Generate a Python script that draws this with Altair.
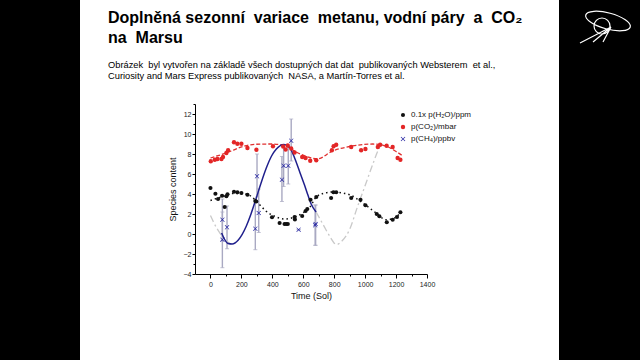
import altair as alt
import pandas as pd

# ---------------- data ----------------
S_H2O = "0.1x p(H₂O)/ppm"
S_CO2 = "p(CO₂)/mbar"
S_CH4 = "p(CH₄)/ppbv"
series_names = [S_H2O, S_CO2, S_CH4]

co2_x = [2, 28, 45, 71, 81, 103, 114, 152, 174, 200, 239, 297, 404, 470, 486, 500, 522, 544,
         593, 615, 645, 684, 785, 796, 813, 910, 974, 1002, 1082, 1097, 1139, 1178, 1210, 1228]
co2_y = [7.27, 7.43, 7.5, 7.5, 7.7, 8.1, 8.37, 9.17, 9.03, 9.03, 8.6, 8.43, 8.77, 8.75, 8.45, 8.85,
         8.55, 8.15, 7.7, 7.6, 7.33, 7.37, 8.37, 8.77, 8.93, 8.7, 8.37, 8.5, 8.7, 8.93, 8.83, 8.7,
         7.6, 7.43]

h2o_x = [0, 32, 49, 75, 92, 103, 110, 152, 174, 200, 239, 290, 296, 398, 447, 479, 490, 500, 544,
         546, 593, 615, 626, 647, 684, 780, 795, 813, 910, 970, 1002, 1075, 1092, 1140, 1178, 1206,
         1228]
h2o_y = [4.6, 4.03, 3.5, 3.83, 2.7, 3.77, 3.97, 4.23, 4.17, 4.1, 3.93, 3.3, 3.25, 1.67, 1.1, 1.0,
         1.0, 1.0, 1.7, 1.45, 1.8, 2.3, 2.5, 3.43, 3.7, 3.6, 4.17, 4.17, 3.6, 3.43, 2.87, 2.0, 1.77,
         1.17, 1.43, 1.7, 2.17]

ch4_x = [77, 77, 107, 290, 301, 312, 462, 473, 503, 522, 570, 677, 680]
ch4_y = [1.43, -0.57, 0.67, 0.53, 5.77, 2.1, 5.43, 6.83, 6.83, 9.33, 0.43, 0.87, 1.0]
ch4_lo = [-0.67, -3.37, -1.47, -1.57, 3.7, 0.15, 3.25, 4.75, 5.0, 7.3, 0.43, -1.13, -1.13]
ch4_hi = [3.5, 2.2, 2.8, 3.3, 8.0, 4.5, 7.75, 8.9, 8.65, 11.5, 0.43, 2.9, 2.9]

co2_fit_x = [0, 110, 220, 290, 390, 480, 560, 640, 690, 790, 900, 1050, 1150, 1200, 1245]
co2_fit_y = [7.6, 8.15, 8.8, 8.97, 9.0, 8.85, 8.15, 7.65, 7.5, 8.3, 8.75, 9.0, 8.7, 8.25, 7.8]

h2o_fit_x = [0, 70, 150, 220, 265, 307, 361, 415, 479, 544, 597, 641, 684, 740, 791, 850, 899,
             985, 1071, 1135, 1190, 1235]
h2o_fit_y = [3.35, 3.7, 4.05, 4.0, 3.75, 3.1, 2.27, 1.77, 1.5, 1.7, 2.1, 2.65, 3.7, 4.1, 4.2, 4.1,
             3.93, 3.1, 2.1, 1.43, 1.6, 2.25]

ch4_fit_x = [72, 90, 114, 140, 180, 232, 262, 292, 325, 361, 395, 426, 475, 510, 544, 575, 608,
             630, 651, 683]
ch4_fit_y = [0.1, -0.5, -0.95, -1.0, -0.6, 0.8, 2.0, 3.4, 5.0, 6.6, 7.8, 8.5, 8.95, 8.7, 7.6, 6.3,
             4.9, 3.9, 3.0, 2.2]

# grey dash-dot continuation: a short piece before the blue fit and a long one after it
ext_a_x = [0, 40, 80, 130]
ext_a_y = [1.85, 0.6, -0.3, -1.0]
ext_b_x = [683, 730, 770, 815, 850, 899, 950, 1006, 1050, 1092, 1115]
ext_b_y = [2.2, 0.9, -0.2, -1.05, -0.7, 0.43, 2.7, 5.1, 7.0, 8.6, 9.0]

x_ticks = list(range(0, 1401, 100))
y_ticks = list(range(-4, 14, 1))

SP2 = "\u00a0 "  # a double space that SVG does not collapse
title_line1 = f"Doplněná sezonní{SP2}variace{SP2}metanu, vodní páry{SP2}a{SP2}CO₂"
title_line2 = f"na{SP2}Marsu"
sub_line1 = (f"Obrázek{SP2}byl vytvořen na základě všech dostupných dat dat{SP2}publikovaných "
             f"Websterem{SP2}et al.,")
sub_line2 = f"Curiosity and Mars Express publikovaných{SP2}NASA, a Martín-Torres et al."

# ---------------- tables ----------------
pts = pd.concat([
    pd.DataFrame({"x": h2o_x, "y": h2o_y, "series": S_H2O}),
    pd.DataFrame({"x": co2_x, "y": co2_y, "series": S_CO2}),
    pd.DataFrame({"x": ch4_x, "y": ch4_y, "series": S_CH4}),
], ignore_index=True)
err = pd.DataFrame({"x": ch4_x, "lo": ch4_lo, "hi": ch4_hi})
err_caps = pd.concat([pd.DataFrame({"x": ch4_x, "y": ch4_lo}),
                      pd.DataFrame({"x": ch4_x, "y": ch4_hi})], ignore_index=True)
ext = pd.concat([pd.DataFrame({"x": ext_a_x, "y": ext_a_y, "seg": "a"}),
                 pd.DataFrame({"x": ext_b_x, "y": ext_b_y, "seg": "b"})], ignore_index=True)

FONT = "Liberation Sans"
X_PATH = ("M-1,-0.8L-0.8,-1L0,-0.2L0.8,-1L1,-0.8L0.2,0L1,0.8L0.8,1L0,0.2"
          "L-0.8,1L-1,0.8L-0.2,0Z")
LOGO_PATH = ("M-0.85,-0.44A0.92,0.32,15,0,1,0.93,0.04A0.92,0.32,15,0,1,-0.85,-0.44"
             "M0.12,0A0.32,0.32,0,1,1,-0.52,0A0.32,0.32,0,1,1,0.12,0"
             "M0.16,0.04L-1.08,0.68M0.16,0.04L-0.56,0.64M0.16,0.04L-0.16,0.64")

x_scale = alt.Scale(domain=[-100, 1400], nice=False, zero=False)
y_scale = alt.Scale(domain=[-4, 13], nice=False, zero=False)

x_axis = alt.Axis(
    title="Time (Sol)", values=x_ticks, format="d", grid=False,
    labelExpr="datum.value % 200 === 0 ? datum.label : ''",
    tickSize={"condition": {"test": "datum.value % 200 === 0", "value": 4}, "value": 2},
    domainColor="black", tickColor="black", labelColor="#222222", titleColor="#111111",
    labelFont=FONT, titleFont=FONT, labelFontSize=7, titleFontSize=9, titleFontWeight="normal",
    labelPadding=2, titlePadding=4, labelFlush=False, zindex=1,
)
y_axis = alt.Axis(
    title="Species content", values=y_ticks, format="d", grid=False,
    labelExpr="datum.value % 2 === 0 ? datum.label : ''",
    tickSize={"condition": {"test": "datum.value % 2 === 0", "value": 3}, "value": 2},
    domainColor="black", tickColor="black", labelColor="#222222", titleColor="#111111",
    labelFont=FONT, titleFont=FONT, labelFontSize=7, titleFontSize=9, titleFontWeight="normal",
    labelPadding=1, titlePadding=6, labelFlush=False, zindex=1,
)

X = alt.X("x:Q", scale=x_scale, axis=x_axis)
Y = alt.Y("y:Q", scale=y_scale, axis=y_axis)

legend = alt.Legend(title=None, orient="none", legendX=204, legendY=7, labelFont=FONT,
                    labelFontSize=8, labelColor="#111111", rowPadding=4, labelLimit=200,
                    zindex=1)

one = pd.DataFrame({"k": [0]})

slide = alt.Chart(one).mark_rect(color="white").encode(
    x=alt.value(-115), x2=alt.value(364), y=alt.value(-104), y2=alt.value(256))

logo = alt.Chart(one).mark_point(shape=LOGO_PATH, filled=False, stroke="white",
                                 strokeWidth=1.2, size=2500, opacity=1).encode(
    x=alt.value(412), y=alt.value(-78))


def text_line(txt, ypos, size, weight="normal"):
    return alt.Chart(one).mark_text(
        text=txt, align="left", baseline="alphabetic", font=FONT, fontSize=size,
        fontWeight=weight, color="black").encode(x=alt.value(-87), y=alt.value(ypos))


t1 = text_line(title_line1, -81, 16, "bold")
t2 = text_line(title_line2, -61.5, 16, "bold")
s1 = text_line(sub_line1, -36, 9.3)
s2 = text_line(sub_line2, -25.5, 9.3)

bars = alt.Chart(err).mark_rule(color="#a9a9c2", strokeWidth=1.4).encode(
    x=X, y=alt.Y("lo:Q", scale=y_scale, axis=y_axis), y2="hi:Q")
caps = alt.Chart(err_caps).mark_tick(color="#a9a9c2", orient="horizontal", size=4,
                                     thickness=1).encode(x=X, y=Y)


def fit(xs, ys, **kw):
    return alt.Chart(pd.DataFrame({"x": xs, "y": ys})).mark_line(
        interpolate="monotone", **kw).encode(x=X, y=Y)


ext_line = alt.Chart(ext).mark_line(interpolate="monotone", color="#c9c9c9", strokeWidth=1.3,
                                    strokeDash=[7, 3, 2, 3]).encode(x=X, y=Y, detail="seg:N")
co2_line = fit(co2_fit_x, co2_fit_y, color="#e03030", strokeWidth=1.3, strokeDash=[4, 2])
h2o_line = fit(h2o_fit_x, h2o_fit_y, color="#111111", strokeWidth=1.5, strokeDash=[1.5, 3])
ch4_line = fit(ch4_fit_x, ch4_fit_y, color="#1f1f8c", strokeWidth=1.5)

points = alt.Chart(pts).mark_point(filled=True, opacity=1).encode(
    x=X, y=Y,
    color=alt.Color("series:N", scale=alt.Scale(domain=series_names,
                                                range=["#111111", "#e32626", "#2020a0"]),
                    legend=legend),
    shape=alt.Shape("series:N", scale=alt.Scale(domain=series_names,
                                                range=["circle", "circle", X_PATH]),
                    legend=legend),
    size=alt.Size("series:N", scale=alt.Scale(domain=series_names, range=[17, 21, 75]),
                  legend=legend),
)

chart = alt.layer(slide, logo, t1, t2, s1, s2, bars, caps, ext_line, co2_line, h2o_line,
                  ch4_line, points).properties(
    width=232, height=170,
    autosize=alt.AutoSizeParams(type="none"),
    padding={"left": 195, "top": 104, "right": 213, "bottom": 86},
    background="black",
).configure_view(strokeWidth=0)

chart.save("out.html", embed_options={"renderer": "svg", "actions": False})
